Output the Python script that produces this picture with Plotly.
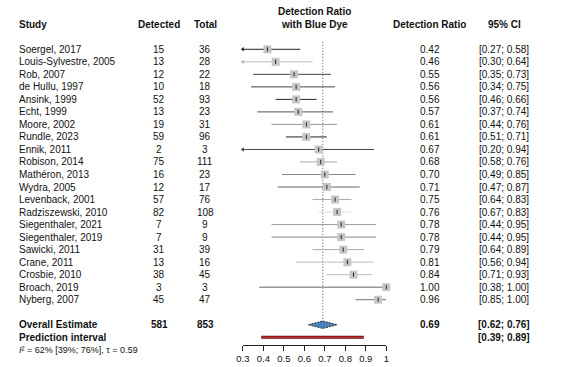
import plotly.graph_objects as go

# ---------------- data ----------------
studies = ["Soergel, 2017", "Louis-Sylvestre, 2005", "Rob, 2007", "de Hullu, 1997",
           "Ansink, 1999", "Echt, 1999", "Moore, 2002", "Rundle, 2023", "Ennik, 2011",
           "Robison, 2014", "Mathéron, 2013", "Wydra, 2005", "Levenback, 2001",
           "Radziszewski, 2010", "Siegenthaler, 2021", "Siegenthaler, 2019",
           "Sawicki, 2011", "Crane, 2011", "Crosbie, 2010", "Broach, 2019", "Nyberg, 2007"]
detected = [15, 13, 12, 10, 52, 13, 19, 59, 2, 75, 16, 12, 57, 82, 7, 7, 31, 13, 38, 3, 45]
total = [36, 28, 22, 18, 93, 23, 31, 96, 3, 111, 23, 17, 76, 108, 9, 9, 39, 16, 45, 3, 47]
ratio = [0.42, 0.46, 0.55, 0.56, 0.56, 0.57, 0.61, 0.61, 0.67, 0.68, 0.70, 0.71, 0.75,
         0.76, 0.78, 0.78, 0.79, 0.81, 0.84, 1.00, 0.96]
ci_lo = [0.27, 0.30, 0.35, 0.34, 0.46, 0.37, 0.44, 0.51, 0.20, 0.58, 0.49, 0.47, 0.64,
         0.67, 0.44, 0.44, 0.64, 0.56, 0.71, 0.38, 0.85]
ci_hi = [0.58, 0.64, 0.73, 0.75, 0.66, 0.74, 0.76, 0.71, 0.94, 0.76, 0.85, 0.87, 0.83,
         0.83, 0.95, 0.95, 0.89, 0.94, 0.93, 1.00, 1.00]

overall_detected = 581
overall_total = 853
overall_est = 0.69
overall_lo = 0.62
overall_hi = 0.76
pred_lo = 0.39
pred_hi = 0.89
het_text = "<i>I</i>² = 62% [39%; 76%], τ = 0.59"

tick_vals = [0.3, 0.4, 0.5, 0.6, 0.7, 0.8, 0.9, 1.0]
tick_text = ["0.3", "0.4", "0.5", "0.6", "0.7", "0.8", "0.9", "1"]

# ---------------- style ----------------
line_grays = ["#222", "#bbb", "#444", "#444", "#222", "#555", "#999", "#222", "#444",
              "#aaa", "#888", "#666", "#aaa", "#ddd", "#999", "#888", "#aaa", "#bbb",
              "#bbb", "#666", "#777"]
W, H = 577, 367
FONT = "Liberation Sans, Arial, sans-serif"
FS = 10
XMIN, XMAX = 0.3, 1.0

fig = go.Figure()

n = len(studies)
rows = list(range(n))
ROW_OVERALL = n + 1
ROW_PRED = n + 2

# reference line
fig.add_trace(go.Scatter(x=[overall_est, overall_est], y=[-0.6, ROW_OVERALL],
                         mode="lines", line=dict(color="#555", width=1, dash="1px,2px"),
                         hoverinfo="skip", showlegend=False))

# CI lines + arrows
for i in rows:
    lo = max(ci_lo[i], XMIN)
    hi = min(ci_hi[i], XMAX)
    fig.add_trace(go.Scatter(x=[lo, hi], y=[i, i], mode="lines",
                             line=dict(color=line_grays[i], width=1),
                             hoverinfo="skip", showlegend=False, cliponaxis=False))
    if ci_lo[i] <= XMIN:
        fig.add_trace(go.Scatter(x=[XMIN], y=[i], mode="markers",
                                 marker=dict(symbol="triangle-left", size=4,
                                             color=line_grays[i], line=dict(width=0)),
                                 hoverinfo="skip", showlegend=False, cliponaxis=False))

# boxes
fig.add_trace(go.Scatter(x=ratio, y=rows, mode="markers",
                         marker=dict(symbol="square", size=8, color="#c6c6c6",
                                     line=dict(width=0)),
                         hoverinfo="skip", showlegend=False, cliponaxis=False))
fig.add_trace(go.Scatter(x=ratio, y=rows, mode="markers",
                         marker=dict(symbol="line-ns", size=3,
                                     line=dict(width=1, color="#222")),
                         hoverinfo="skip", showlegend=False, cliponaxis=False))

# overall diamond
dh = 0.3
fig.add_trace(go.Scatter(x=[overall_lo, overall_est, overall_hi, overall_est, overall_lo],
                         y=[ROW_OVERALL, ROW_OVERALL - dh, ROW_OVERALL, ROW_OVERALL + dh, ROW_OVERALL],
                         mode="lines", fill="toself", fillcolor="#4a82c0",
                         line=dict(color="#333", width=1, dash="2px,1px"),
                         hoverinfo="skip", showlegend=False))

# prediction interval
fig.add_trace(go.Scatter(x=[pred_lo, pred_hi], y=[ROW_PRED, ROW_PRED], mode="lines",
                         line=dict(color="#5a1010", width=3),
                         hoverinfo="skip", showlegend=False))
fig.add_trace(go.Scatter(x=[pred_lo, pred_hi], y=[ROW_PRED, ROW_PRED], mode="lines",
                         line=dict(color="#c0282d", width=1.5),
                         hoverinfo="skip", showlegend=False))

# ---------------- text ----------------
ann = []
def txt(px, row, s, anchor="center", bold=False, size=FS, yref="y"):
    if bold:
        s = "<b>" + s + "</b>"
    ann.append(dict(x=px / W, xref="paper", y=row, yref=yref, text=s, showarrow=False,
                    xanchor=anchor, yanchor="middle", borderpad=0,
                    font=dict(size=size, color="#111", family=FONT)))

X_STUDY, X_DET, X_TOT, X_PLOT, X_RAT, X_CI = 11, 155, 202, 313, 430, 506
txt(X_STUDY, -2, "Study", "left", True)
txt(X_DET, -2, "Detected", bold=True)
txt(X_TOT, -2, "Total", bold=True)
txt(X_PLOT, -3, "Detection Ratio", bold=True)
txt(X_PLOT, -2, "with Blue Dye", bold=True)
txt(X_RAT, -2, "Detection Ratio", bold=True)
txt(X_CI, -2, "95% CI", bold=True)

for i in rows:
    txt(X_STUDY, i, studies[i], "left")
    txt(X_DET, i, str(detected[i]))
    txt(X_TOT, i, str(total[i]))
    txt(X_RAT, i, f"{ratio[i]:.2f}")
    txt(X_CI, i, f"[{ci_lo[i]:.2f}; {ci_hi[i]:.2f}]")

txt(X_STUDY, ROW_OVERALL, "Overall Estimate", "left", True)
txt(X_DET, ROW_OVERALL, str(overall_detected), bold=True)
txt(X_TOT, ROW_OVERALL, str(overall_total), bold=True)
txt(X_RAT, ROW_OVERALL, f"{overall_est:.2f}", bold=True)
txt(X_CI, ROW_OVERALL, f"[{overall_lo:.2f}; {overall_hi:.2f}]", bold=True)
txt(X_STUDY, ROW_PRED, "Prediction interval", "left", True)
txt(X_CI, ROW_PRED, f"[{pred_lo:.2f}; {pred_hi:.2f}]", bold=True)
txt(X_STUDY, 1 - 349.5 / H, het_text, "left", size=9, yref="paper")

# ---------------- layout ----------------
ROW_PX0, ROW_STEP, AXIS_PX = 49.3, 12.52, 344.5
y_top = -ROW_PX0 / ROW_STEP
y_bot = (AXIS_PX - ROW_PX0) / ROW_STEP

fig.update_layout(
    width=W, height=H, margin=dict(l=0, r=0, t=0, b=0),
    paper_bgcolor="white", plot_bgcolor="white",
    font=dict(family=FONT, size=FS, color="#111"),
    annotations=ann, showlegend=False,
    xaxis=dict(domain=[240 / W, 386 / W], range=[XMIN, XMAX], showgrid=False,
               zeroline=False, showline=True, linecolor="#222", linewidth=1,
               ticks="outside", ticklen=5, tickcolor="#222", tickwidth=1,
               tickvals=tick_vals, ticktext=tick_text, tickfont=dict(size=9.5),
               fixedrange=True),
    yaxis=dict(domain=[1 - AXIS_PX / H, 1], range=[y_bot, y_top], visible=False,
               showgrid=False, zeroline=False, fixedrange=True),
)

fig.write_html("out.html")
